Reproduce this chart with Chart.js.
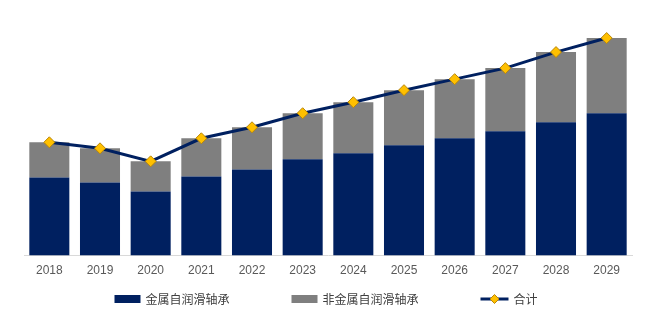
<!DOCTYPE html>
<html>
<head>
<meta charset="utf-8">
<script src="https://cdn.jsdelivr.net/npm/chart.js@4"></script>
<style>
  html, body { margin: 0; padding: 0; background: #fff; }
  #wrap { width: 652px; height: 326px; position: relative; }
</style>
</head>
<body>
<div id="wrap"><canvas id="myChart"></canvas></div>
<script>
// 年份 (X軸)
const years = ['2018', '2019', '2020', '2021', '2022', '2023', '2024', '2025', '2026', '2027', '2028', '2029'];
// 金属自润滑轴承
const metalValues = [78, 73, 64, 79, 86, 96, 102, 110, 117, 124, 133, 142];
// 非金属自润滑轴承
const nonMetalValues = [35, 34, 30, 38, 42, 46, 51, 55, 59, 63, 70, 75];
// 合计
const totalValues = metalValues.map((v, i) => v + nonMetalValues[i]);

const seriesNames = ['金属自润滑轴承', '非金属自润滑轴承', '合计'];
const navy = '#002060';
const gray = '#7F7F7F';
const gold = '#FFC000';

// 凡例を下に描画するプラグイン
const bottomLegend = {
    id: 'bottomLegend',
    afterDraw(chart) {
        const ctx = chart.ctx;
        const y = 299;
        const gap = 62;
        ctx.save();
        ctx.font = '12px "Noto Sans CJK SC"';
        ctx.textBaseline = 'middle';
        const items = [
            { text: seriesNames[0], type: 'box', color: navy, w: 26 },
            { text: seriesNames[1], type: 'box', color: gray, w: 26 },
            { text: seriesNames[2], type: 'line', color: navy, w: 28 }
        ];
        items.forEach(it => it.total = it.w + 5 + ctx.measureText(it.text).width);
        const full = items.reduce((s, it) => s + it.total, 0) + gap * (items.length - 1);
        let x = (chart.width - full) / 2;
        items.forEach(it => {
            if (it.type === 'box') {
                ctx.fillStyle = it.color;
                ctx.fillRect(x, y - 4, it.w, 8);
            } else {
                ctx.strokeStyle = it.color;
                ctx.lineWidth = 3;
                ctx.beginPath();
                ctx.moveTo(x, y);
                ctx.lineTo(x + it.w, y);
                ctx.stroke();
                const cx = x + it.w / 2;
                ctx.beginPath();
                ctx.moveTo(cx, y - 4.5);
                ctx.lineTo(cx + 4.5, y);
                ctx.lineTo(cx, y + 4.5);
                ctx.lineTo(cx - 4.5, y);
                ctx.closePath();
                ctx.fillStyle = gold;
                ctx.fill();
                ctx.lineWidth = 1;
                ctx.strokeStyle = '#B8860B';
                ctx.stroke();
            }
            ctx.fillStyle = '#404040';
            ctx.fillText(it.text, x + it.w + 5, y);
            x += it.total + gap;
        });
        ctx.restore();
    }
};

const ctx = document.getElementById('myChart').getContext('2d');
new Chart(ctx, {
    data: {
        labels: years,
        datasets: [
            {
                type: 'line',
                label: seriesNames[2],
                data: totalValues,
                stack: 'total',
                order: 0,
                borderColor: navy,
                borderWidth: 3,
                tension: 0,
                pointStyle: 'rectRot',
                pointRadius: 5.5,
                pointHoverRadius: 5.5,
                pointBackgroundColor: gold,
                pointBorderColor: '#B8860B',
                pointBorderWidth: 1
            },
            {
                type: 'bar',
                label: seriesNames[0],
                data: metalValues,
                stack: 'bars',
                order: 1,
                backgroundColor: navy,
                categoryPercentage: 1,
                barPercentage: 0.79
            },
            {
                type: 'bar',
                label: seriesNames[1],
                data: nonMetalValues,
                stack: 'bars',
                order: 2,
                backgroundColor: gray,
                categoryPercentage: 1,
                barPercentage: 0.79
            }
        ]
    },
    options: {
        responsive: true,
        maintainAspectRatio: false,
        animation: false,
        layout: { padding: { left: 24, right: 20, top: 25, bottom: 40 } },
        scales: {
            x: {
                stacked: true,
                grid: { display: false, drawTicks: false },
                border: { display: true, color: '#D9D9D9', width: 1 },
                ticks: {
                    padding: 8,
                    color: '#595959',
                    font: { family: '"Liberation Sans", Arial, sans-serif', size: 12 }
                }
            },
            y: {
                stacked: true,
                display: false,
                min: 0,
                max: 230
            }
        },
        plugins: {
            legend: { display: false },
            tooltip: { enabled: false }
        }
    },
    plugins: [bottomLegend]
});
</script>
</body>
</html>
